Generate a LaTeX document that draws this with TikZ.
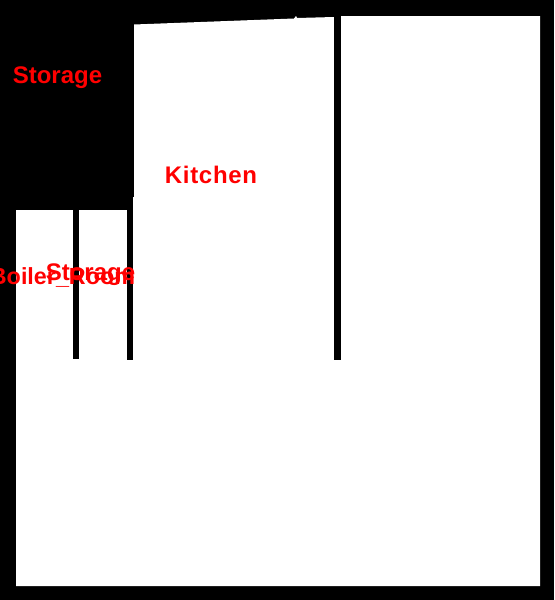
\documentclass[tikz,border=0pt]{standalone}
\usepackage{fontspec}
\setmainfont{Liberation Sans}
\begin{document}
\begin{tikzpicture}[x=.75pt,y=-.75pt,
    room/.style={fill=white,draw=none},
    wall/.style={fill=black,draw=none},
    roomlabel/.style={text=red,font=\fontsize{18}{20}\selectfont\bfseries,inner sep=0pt,anchor=base}]
  \fill[black] (0,0) rectangle (554,600);
  \useasboundingbox (0,0) rectangle (554,600);
  % floor
  \path[room] (16,210) -- (133,210) -- (133,197) -- (134,197) -- (134,24.5)
    -- (294,18.5) -- (296,16) -- (297,18) -- (334,17) -- (334,16) -- (540,16)
    -- (540,586) -- (16,586) -- cycle;
  % walls
  \path[wall] (73,210) rectangle (79,359);
  \path[wall] (127,210) rectangle (133,360);
  \path[wall] (334,16) rectangle (341,360);
  % labels
  \node[roomlabel] (storagetop) at (57.5,83) {Storage};
  \node[roomlabel] (kitchen) at (211,183) {\addfontfeature{LetterSpace=2.8}Kitchen};
  \node[roomlabel,font=\fontsize{17.5}{20}\selectfont\bfseries] (boiler) at (62.5,284) {Boiler\_Room};
  \node[roomlabel] (storagelow) at (90.5,280) {Storage};
\end{tikzpicture}
\end{document}
